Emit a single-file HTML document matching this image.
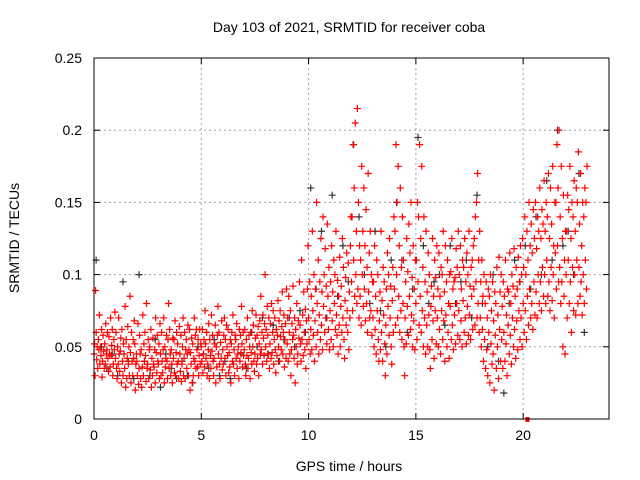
<!DOCTYPE html>
<html><head><meta charset="utf-8"><style>
html,body{margin:0;padding:0;background:#fff;}
svg{display:block;font-family:"Liberation Sans",sans-serif;}
</style></head><body>
<svg id="chart" width="640" height="480">
<text x="349" y="32" text-anchor="middle" font-size="14">Day 103 of 2021, SRMTID for receiver coba</text>
<text x="349" y="471" text-anchor="middle" font-size="14">GPS time / hours</text>
<text transform="translate(19,238) rotate(-90)" text-anchor="middle" font-size="14">SRMTID / TECUs</text>
<g id="grid"></g><g id="ticks"></g><g id="black"></g><g id="red"></g>
<rect x="94" y="58" width="515" height="361" fill="none" stroke="#000" stroke-width="1"/>
</svg>
<script>
const xTicks=[0,5,10,15,20];
const yTicks=[0,0.05,0.1,0.15,0.2,0.25];
const yTickLabels=["0","0.05","0.1","0.15","0.2","0.25"];
const slotHours=0.1;
const redValues=[
[45,52,30,89],[60,41,50,35],[55,48,72,38],[50,44,62,29],[40,58,47,35],[52,38,66,45],[48,60,42,33],[57,45,36,70],[44,51,62,30],[38,55,48,74],
[42,60,35,28],[50,38,70,45],[33,47,56,25],[62,40,30,52],[45,35,78,22],[55,28,42,64],[38,50,30,85],[46,25,60,40],[30,55,42,68],[52,20,38,45],
[40,30,66,24],[35,58,45,28],[48,22,36,72],[30,52,40,60],[44,26,80,35],[38,55,28,48],[50,34,62,22],[42,30,56,38],[36,48,25,70],[46,32,58,40],
[38,52,28,66],[45,30,60,40],[32,48,70,25],[50,36,42,58],[40,28,55,80],[35,62,45,30],[48,38,25,56],[42,55,32,68],[30,46,60,38],[52,40,28,64],
[45,33,58,26],[38,50,70,30],[42,60,28,48],[55,35,45,65],[30,48,62,20],[46,38,56,25],[52,30,42,70],[40,58,35,62],[48,36,55,30],[44,62,38,52],
[50,40,62,32],[45,55,36,75],[52,42,60,30],[38,48,66,28],[55,44,35,72],[47,58,40,30],[42,52,65,25],[50,36,58,78],[45,60,38,28],[53,42,68,34],
[48,38,58,70],[42,55,30,65],[50,44,62,32],[46,36,55,25],[52,60,40,72],[38,48,30,58],[55,42,66,35],[45,50,28,62],[40,58,46,78],[52,36,60,44],
[48,62,38,30],[55,44,70,35],[42,58,50,28],[60,46,38,75],[50,65,40,33],[45,56,72,38],[58,42,64,30],[52,68,45,85],[48,60,38,72],[56,44,66,100],
[50,62,40,78],[58,45,70,35],[52,66,42,80],[46,60,75,38],[55,70,48,32],[62,44,58,82],[50,68,40,75],[57,48,64,88],[45,60,72,36],[55,66,42,90],
[52,70,40,85],[60,45,75,30],[48,66,55,92],[58,42,70,25],[62,50,80,38],[45,68,56,95],[65,52,40,110],[55,72,44,88],[60,48,76,35],[68,52,90,120],
[70,55,95,45],[62,85,48,130],[75,58,100,40],[68,90,50,150],[80,60,110,45],[72,95,55,125],[65,88,48,140],[78,100,60,118],[70,92,52,135],[85,62,105,48],
[75,95,55,120],[68,88,50,110],[80,100,62,130],[72,58,96,45],[85,65,112,50],[78,92,60,125],[70,105,55,42],[82,98,65,115],[75,60,108,48],[88,70,120,140],
[95,140,75,190],[110,160,85,205],[100,130,80,215],[90,150,70,120],[85,110,65,175],[100,130,78,160],[90,120,68,145],[80,105,60,170],[88,115,70,130],[75,100,58,95],
[70,95,50,120],[62,85,45,110],[75,100,55,40],[68,88,48,130],[60,82,40,105],[72,95,52,30],[65,90,45,115],[78,100,58,125],[70,92,50,38],[82,105,60,140],
[90,130,65,190],[100,150,70,175],[85,120,60,160],[75,105,55,140],[80,110,50,30],[70,95,52,125],[78,102,58,135],[85,115,62,150],[72,98,50,120],[68,90,48,110],
[80,110,55,150],[95,140,65,190],[85,125,60,175],[75,105,50,140],[70,95,45,130],[65,88,50,115],[72,100,48,35],[78,92,55,125],[68,85,42,110],[75,98,52,120],
[70,90,50,115],[62,85,45,105],[75,100,55,130],[68,88,40,120],[72,95,50,110],[60,80,42,100],[78,102,55,125],[65,90,48,95],[72,98,52,118],[80,105,58,130],
[75,100,55,120],[68,90,50,110],[82,105,60,125],[70,95,52,115],[78,100,58,130],[72,92,55,105],[85,110,62,120],[90,125,65,140],[95,150,70,170],[80,110,60,130],
[70,95,50,110],[62,85,40,100],[55,80,35,95],[48,70,30,90],[60,85,25,100],[52,75,38,95],[45,68,20,88],[58,80,35,105],[50,72,28,112],[62,88,40,100],
[55,78,35,95],[60,85,40,110],[52,72,30,90],[65,88,45,115],[58,80,38,100],[70,92,50,118],[62,85,42,105],[68,90,48,112],[75,95,55,120],[70,100,50,125],
[80,105,60,140],[75,100,55,130],[85,110,65,150],[90,120,70,135],[80,115,62,145],[95,125,72,150],[88,118,70,140],[100,130,80,160],[95,125,75,145],[105,135,85,165],
[100,130,80,150],[110,140,85,170],[95,125,75,160],[105,135,82,175],[100,120,70,150],[115,150,90,190],[120,160,95,200],[105,140,80,175],[95,125,50,155],[85,110,45,130],
[100,130,70,155],[110,145,80,175],[95,125,60,150],[105,140,75,165],[100,130,72,160],[110,150,80,185],[105,135,85,170],[95,120,72,150],[100,140,80,160],[110,150,90,175]
];
const blackStep=0.25;
const blackValues=[110,50,35,45,30,95,40,28,100,40,30,55,22,45,35,28,40,30,25,50,45,35,55,30,40,28,55,45,35,60,50,70,45,65,40,55,70,50,75,60,160,90,130,70,155,85,120,95,190,140,100,80,130,75,50,110,150,110,60,90,195,120,80,95,100,65,120,80,95,110,70,155,80,50,100,40,18,80,110,95,120,90,140,100,165,110,200,120,130,100,170,60];
const xMin=0,xMax=24,yMin=0,yMax=0.25;
const L=94,R=609,T=58,B=419;
function sx(t){return L+(t-xMin)/(xMax-xMin)*(R-L);}
function sy(v){return B-(v-yMin)/(yMax-yMin)*(B-T);}
const NS="http://www.w3.org/2000/svg";
function mk(tag,attrs,parent){const e=document.createElementNS(NS,tag);for(const k in attrs)e.setAttribute(k,attrs[k]);parent.appendChild(e);return e;}
const grid=document.getElementById('grid'),ticks=document.getElementById('ticks');
xTicks.forEach(t=>{
  const x=sx(t);
  if(t>xMin){const g=mk('line',{x1:x,y1:T,x2:x,y2:B,stroke:'#a0a0a0','stroke-dasharray':'2,3'},grid);
  
  }
  mk('line',{x1:x,y1:B,x2:x,y2:B-6,stroke:'#000'},ticks);
  mk('line',{x1:x,y1:T,x2:x,y2:T+6,stroke:'#000'},ticks);
  const lb=mk('text',{x:x,y:B+21,'text-anchor':'middle','font-size':'14'},ticks);
  lb.textContent=String(t);
  
  
});
yTicks.forEach((v,i)=>{
  const y=sy(v);
  if(v>yMin&&v<yMax){const g=mk('line',{x1:L,y1:y,x2:R,y2:y,stroke:'#a0a0a0','stroke-dasharray':'2,3'},grid);
  
  }
  mk('line',{x1:L,y1:y,x2:L+6,y2:y,stroke:'#000'},ticks);
  mk('line',{x1:R,y1:y,x2:R-6,y2:y,stroke:'#000'},ticks);
  const lb=mk('text',{x:L-12,y:y+5,'text-anchor':'end','font-size':'14'},ticks);
  lb.textContent=yTickLabels[i];
  
  
});
function plus(g,t,v,color,name){
  const x=sx(t),y=sy(v);
  const p=mk('path',{d:`M${x-3.5} ${y}h7M${x} ${y-3.5}v7`,stroke:color,'stroke-width':'1.2',fill:'none'},g);
  
  
}
const bg=document.getElementById('black'),rg=document.getElementById('red');
blackValues.forEach((v,i)=>plus(bg,i*blackStep+0.1,v/1000,'#333','black-point'));
redValues.forEach((arr,i)=>arr.forEach((v,j)=>plus(rg,i*slotHours+j*0.025,v/1000,'#f00','red-point')));
const m=mk('rect',{x:sx(20.2)-2,y:B-2,width:4,height:5,fill:'#f00'},rg);


</script>
</body></html>
